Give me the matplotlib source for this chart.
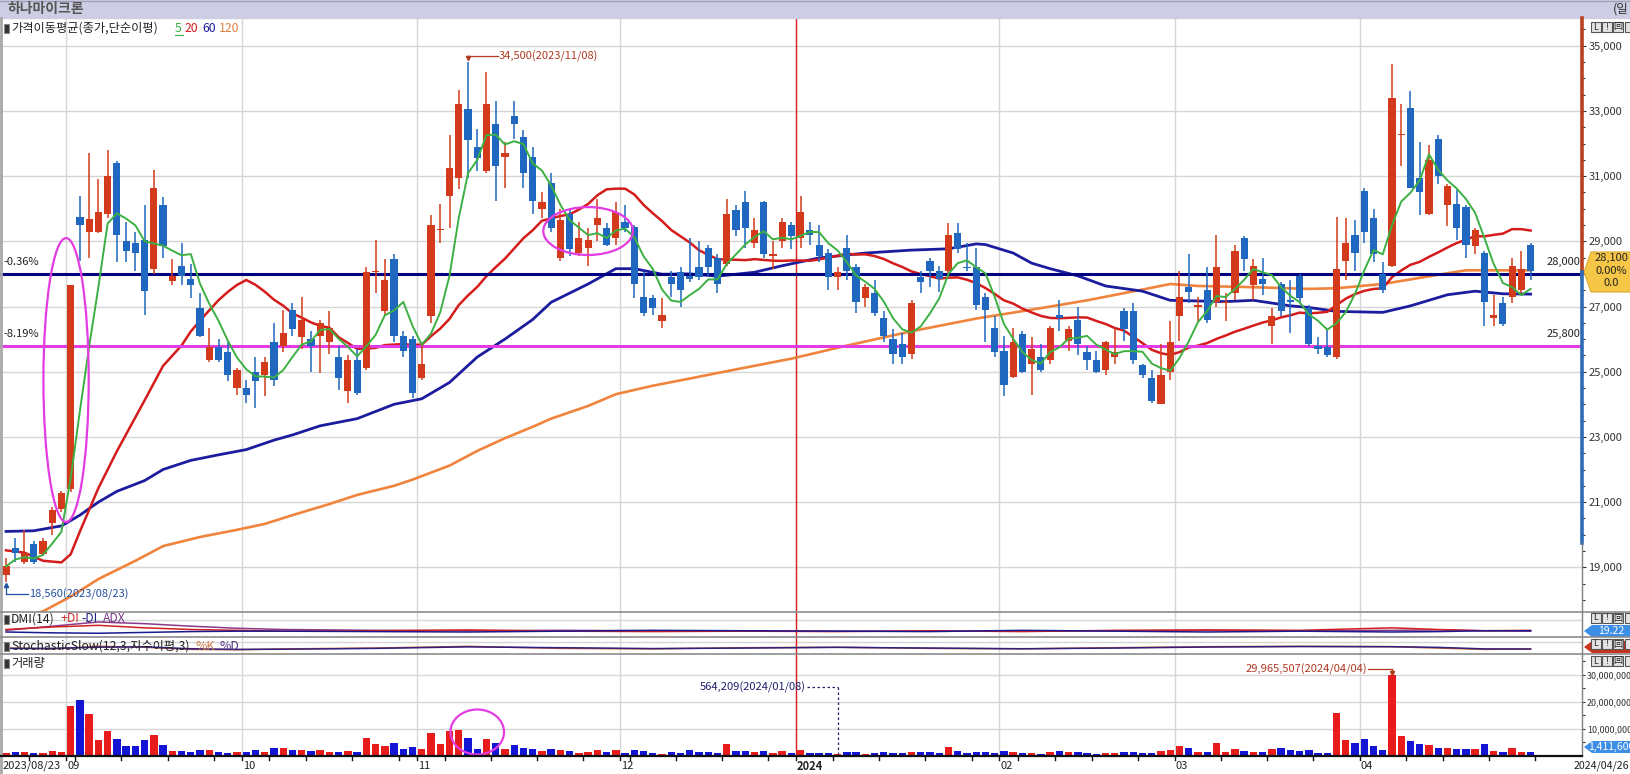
import numpy as np
import pandas as pd
import matplotlib
matplotlib.use('Agg')
import matplotlib.pyplot as plt
from matplotlib.patches import Ellipse, Polygon, Rectangle

plt.rcParams['font.family'] = ['Noto Sans CJK KR', 'DejaVu Sans']

# ---------------- data ----------------
open_ = [18750,19600,19150,19710,19400,20350,20800,21400,29750,29300,
         29300,29850,31400,29000,28950,29050,28150,30100,27770,28250,
         27850,26950,25350,25770,25600,24500,24500,25000,24900,25900,
         25800,26900,26050,26000,26100,25900,25450,24400,25350,25100,
         28050,26850,28450,26100,26000,24800,26700,29350,30400,30950,
         33050,31900,31150,32600,31600,32850,32200,31600,30000,30800,
         28500,29850,28650,28800,29500,29400,29100,29600,29450,27300,
         27250,26550,27900,28050,27950,28200,28800,28500,28300,29950,
         30200,28950,30200,28550,29000,29500,29100,29350,28900,28650,
         27900,28800,28200,27250,27400,26650,26000,25850,25550,27900,
         28400,28100,28100,29250,28220,28200,27300,26350,25650,24850,
         26150,25250,25450,25350,26750,25950,26600,25600,25350,25050,
         25450,26850,26850,25200,24800,24000,25000,26700,27600,27000,
         27500,27150,27100,27400,29100,27650,27850,26400,27700,27200,
         27950,26950,25800,25750,25450,28400,29200,30550,29700,28000,
         28250,32250,33100,30950,29850,32150,30100,30150,30050,28850,
         28650,26650,27100,27300,27500,28900]
high = [19300,19900,20150,19800,19900,20850,21350,27650,30400,31700,
        30900,31800,31450,29600,29300,30100,31200,30350,28450,28950,
        28300,27400,26350,26000,25900,25100,24750,25450,25450,26500,
        26900,27100,27300,26250,26600,26850,25800,25500,25700,28200,
        29050,28450,28600,26250,26100,25900,29800,30150,32250,33650,
        34500,32450,34200,33300,32050,33300,32400,31900,30500,31100,
        30000,29950,29600,29400,30300,29550,30200,30100,29500,28050,
        27350,27250,28100,28200,29100,29000,28900,28600,30300,30100,
        30550,29700,30250,29000,29700,29600,30400,29600,29500,28750,
        28200,29200,28300,27700,27800,26850,26300,26200,27200,28100,
        28500,28250,29550,29550,28950,28800,27400,26700,26100,26350,
        26250,26050,25850,26400,27200,26400,27000,25800,25650,25950,
        26350,26950,27100,25250,25050,25850,26550,28100,28600,27300,
        28200,29200,27400,28900,29150,28450,28500,26950,27750,27800,
        28000,27050,26050,26300,29750,29700,29650,30650,30000,28350,
        34450,33200,33600,32050,31950,32250,30750,30600,30100,29400,
        28700,27350,27300,28500,28700,28950]
low = [18560,19150,19100,19100,19350,20000,20700,21300,28400,28500,
       29250,29700,28350,28350,28100,26750,28000,28500,27650,27650,
       27250,26050,25300,25300,24700,24300,24050,23900,24250,24550,
       25600,26100,25700,25000,24950,25550,24450,24050,24300,25050,
       27400,26750,25900,25450,24200,24750,26500,28950,29400,30600,
       30950,31150,31100,30250,30650,32150,30650,29850,29700,29300,
       28400,28550,28550,28250,29000,28850,28900,29300,27250,26700,
       26750,26350,27300,27000,27750,27800,27950,27400,28250,29150,
       28800,28800,28500,28150,28800,28750,28800,28900,28350,27500,
       27500,27800,26800,27000,26700,25900,25250,25250,25400,27400,
       27600,27450,28000,28650,28100,26900,25900,25450,24250,24800,
       24950,24300,25000,25250,26250,25650,25500,25050,24950,24900,
       25250,25950,25250,24800,24050,24000,24750,25950,27100,26550,
       26500,27000,26550,27200,28100,27200,27350,25850,26700,26200,
       27100,25800,25550,25450,25400,27800,28100,28950,28350,27400,
       28200,31300,30650,29800,29800,30750,29480,29050,28500,28600,
       26400,26400,26400,27100,27400,27800]
close = [19030,19450,19450,19150,19820,20770,21270,27650,29500,29680,
         29900,31000,29200,28700,28650,27470,30650,28850,27940,27950,
         27650,26100,25770,25350,24900,25050,24300,24700,25300,24750,
         26200,26300,26600,25800,26500,26350,24800,25350,24350,28050,
         28100,27800,26100,25650,24350,25250,29500,29380,31250,33200,
         32100,31550,33200,31300,31700,32600,31100,30250,30200,29400,
         29650,28750,29100,29050,29700,28900,29900,29400,27700,26800,
         26950,26750,27700,27500,27850,27900,28200,27700,29850,29350,
         29400,29350,28600,28600,29600,29150,29900,29200,28550,27900,
         28050,28100,27150,27600,26800,26100,25550,25450,27100,27750,
         28100,27850,29200,28750,28180,27050,26900,25600,24600,25900,
         25000,25700,25050,26350,26650,26300,25850,25350,25000,25900,
         25600,26300,25350,24900,24100,24900,25900,27300,27450,27050,
         26600,28200,27150,28700,28450,28250,27700,26700,26850,27150,
         27250,25850,25700,25500,28150,28950,28650,29300,28600,27500,
         33400,32300,30650,30500,31500,31000,30700,29400,28900,29350,
         27150,26750,26450,28250,28150,28100]
volume_m = [1.2,1.5,1.5,1.1,1.1,1.8,1.5,18.5,20.7,15.5,
            5.9,9.2,6.3,3.7,3.7,5.9,7.7,4.1,1.8,1.8,
            1.5,2.2,2.2,1.5,1.1,1.5,1.5,2.2,1.5,3.0,
            3.0,2.2,2.2,1.8,2.2,1.5,1.5,1.8,1.5,6.8,
            4.4,3.7,4.8,2.6,3.3,2.6,8.6,4.4,9.2,9.6,
            6.6,2.6,6.3,4.8,2.6,4.1,3.0,2.6,1.8,2.6,
            2.2,1.8,1.1,1.5,2.2,1.5,2.2,1.1,2.2,1.8,
            1.1,0.7,1.5,1.1,2.2,1.5,1.5,1.1,4.4,1.8,
            1.8,1.5,1.8,1.1,1.8,1.1,2.2,1.1,1.1,1.1,
            0.564209,1.5,1.5,0.7,1.1,1.5,1.1,1.1,1.5,1.5,
            1.5,1.1,3.3,1.8,1.1,1.5,1.5,1.1,1.8,1.5,
            1.1,1.1,0.7,1.5,1.8,1.5,1.5,1.1,0.7,1.1,
            1.1,1.5,1.5,1.1,1.1,1.8,2.2,3.7,3.0,1.5,
            1.5,4.8,1.5,2.6,1.8,1.5,1.5,2.6,3.0,2.2,
            1.8,2.2,1.1,1.1,16.0,5.9,4.8,6.3,3.7,2.2,
            29.965507,7.4,5.5,4.4,4.1,3.0,3.0,2.6,2.6,2.6,
            4.4,1.8,1.5,3.0,1.5,1.4116]

ma20_early_idx = [0, 2, 4, 6, 7, 8, 10, 12, 15, 17]
ma20_early_val = [19520, 19450, 19200, 19150, 19400, 20100, 21430, 22560, 24120, 25180]

ma60_idx = [0,3,6,8,10,12,15,17,20,23,26,29,31,34,38,42,45,48,51,54,57,59,63,66,68,71,74,77,81,84,
            88,93,98,102,105,106,109,111,113,116,119,123,126,129,132,135,139,141,144,149,152,156,159,162,165]
ma60_val = [20100,20120,20270,20600,21000,21330,21660,22000,22280,22450,22610,22900,23060,23340,23560,
            24000,24170,24670,25450,26000,26600,27130,27690,28160,28160,27990,28000,27930,28050,28250,
            28490,28640,28730,28770,28920,28900,28640,28330,28160,27940,27630,27470,27190,27170,27150,
            27190,27020,26970,26850,26820,27020,27360,27470,27390,27380]

ma120_idx = [0,4,7,10,14,17,21,25,28,31,35,38,42,44,48,51,54,57,59,63,66,70,74,77,81,85,91,98,105,112,
             117,123,126,129,134,141,144,149,156,158,165]
ma120_val = [17300,17650,18100,18640,19200,19650,19930,20150,20330,20600,20940,21220,21500,21690,22120,
             22570,22960,23310,23560,23950,24310,24570,24790,24960,25180,25400,25800,26240,26630,26950,
             27190,27520,27690,27630,27600,27540,27560,27690,28020,28110,28110]

dmi_idx = [0,5,10,15,20,25,30,40,50,60,70,80,90,100,110,120,130,140,150,155,160,165]
plus_di = [18,24,28,22,18,16,14,15,17,14,13,14,13,15,13,16,17,16,22,18,15,16]
minus_di = [12,10,9,11,13,14,14,13,12,14,16,15,14,13,16,14,12,14,12,13,15,15]
adx = [16,26,36,32,26,21,18,16,15,16,15,14,14,14,14,15,16,15,16,17,15,14]
stoch_k = [35,30,45,40,27,25,30,35,45,33,30,37,40,33,30,37,43,45,43,35,27,30]
stoch_d = [33,33,40,42,31,27,28,33,42,37,32,35,39,35,31,35,41,44,43,39,30,29]

price_ticks = list(range(19000, 35001, 2000))
vol_ticks = [10, 20, 30]
month_labels = ['09', '10', '11', '12', '2024', '02', '03', '04']
hlines = [(28000, '-0.36%', '28,000', '#000080'), (25800, '-8.19%', '25,800', '#e23ce2')]

holidays = pd.to_datetime(['2023-09-28', '2023-09-29', '2023-10-02', '2023-10-03', '2023-10-09',
                           '2023-12-25', '2023-12-29', '2024-01-01', '2024-02-09', '2024-02-12',
                           '2024-03-01', '2024-04-10'])
dates = pd.bdate_range('2023-08-23', '2024-04-26')
dates = dates[~dates.isin(holidays)]

# ---------------- layout ----------------
W, H = 1631, 774
fig = plt.figure(figsize=(W / 100, H / 100), dpi=100)
fig.patch.set_facecolor('white')

X0_PX, DX_PX = 6.0, 9.24
AX_R = 1582

def px2i(px):
    return (px - X0_PX) / DX_PX

def i2px(i):
    return X0_PX + DX_PX * i

def py2p(py):
    return 35000 - (py - 45.7) / 32.6 * 1000

def py2v(py):
    return (756 - py) / 27.1 * 10

def ax_at(x0, y0, x1, y1, z=1):
    a = fig.add_axes([x0 / W, 1 - y1 / H, (x1 - x0) / W, (y1 - y0) / H], zorder=z)
    for s in a.spines.values():
        s.set_visible(False)
    a.set_xlim(px2i(x0), px2i(x1))
    a.tick_params(left=False, bottom=False, labelleft=False, labelbottom=False, right=False, top=False)
    a.patch.set_alpha(0)
    return a

n = len(close)
x = np.arange(n)
o = np.array(open_, float); h = np.array(high, float); l = np.array(low, float); c = np.array(close, float)
up = c >= o
RED, BLUE = '#d23a1b', '#1f67bf'
VRED, VBLUE = '#e81c1c', '#1414d4'
GRID = '#d6d6d6'
cols = np.where(up, RED, BLUE)
vcols = np.where(up, VRED, VBLUE)

month_idx = [k for k in range(1, n) if dates[k].month != dates[k - 1].month]
week_idx = [k for k in range(1, n) if dates[k].isocalendar()[1] != dates[k - 1].isocalendar()[1]]
year_idx = [k for k in range(1, n) if dates[k].year != dates[k - 1].year]

# main price panel
axm = ax_at(0, 18, AX_R, 612, z=2)
axm.set_ylim(py2p(612), py2p(18))
for p in price_ticks:
    axm.axhline(p, color=GRID, lw=1, zorder=0)
for m in month_idx:
    axm.axvline(m - 0.5, color=GRID, lw=1, zorder=0)
for yk in year_idx:
    axm.axvline(yk - 0.5, color='#e02020', lw=1, zorder=0.5)

axm.vlines(x, l, h, colors=cols, lw=1.1, zorder=3)
body_b = np.minimum(o, c)
body_h = np.maximum(np.abs(c - o), 40)
axm.bar(x, body_h, bottom=body_b, width=0.78, color=cols, linewidth=0, zorder=3)

ma5 = pd.Series(c).rolling(5, min_periods=1).mean().values
ma20 = pd.Series(c).rolling(20).mean().values
axm.plot(ma120_idx, ma120_val, color='#f0843c', lw=1.9, zorder=2)
axm.plot(ma60_idx, ma60_val, color='#1c1c9e', lw=2.0, zorder=2)
axm.plot(ma20_early_idx + list(range(19, n)), ma20_early_val + list(ma20[19:]), color='#d41c1c', lw=1.8, zorder=2)
axm.plot(x, ma5, color='#3cb043', lw=1.4, zorder=4)

for val, ltxt, rtxt, colr in hlines:
    axm.axhline(val, color=colr, lw=2.2, zorder=2.5)

# ellipses
axm.add_patch(Ellipse((6.5, 24745), 4.9, 8710, fill=False, edgecolor='#e23ce2', lw=1.6, zorder=5))
axm.add_patch(Ellipse((63.0, 29315), 9.7, 1470, fill=False, edgecolor='#e23ce2', lw=1.6, zorder=5))

axm.yaxis.set_ticks_position('right')
axm.set_yticks(price_ticks)
axm.set_yticks(list(range(18000, 35501, 500)), minor=True)
axm.set_yticklabels([f'{p:,}' for p in price_ticks])
axm.tick_params(axis='y', which='major', right=True, labelright=True, direction='out', length=3,
                width=0.8, pad=1.5, labelsize=8, colors='#333333')
axm.tick_params(axis='y', which='minor', right=True, direction='out', length=1.8, width=0.8, colors='#333333')

# high / low annotations
hi_i = int(np.argmax(h)); lo_i = int(np.argmin(l))
ya = py2p(56)
axm.plot([hi_i, px2i(498)], [ya, ya], color='#b03a20', lw=0.9, zorder=6)
axm.plot([hi_i, hi_i], [ya, h[hi_i] + 80], color='#b03a20', lw=0.9, zorder=6)
axm.plot([hi_i], [h[hi_i] + 120], marker='v', ms=3, color='#b03a20', zorder=6)
axm.text(px2i(499), ya, f'{int(h[hi_i]):,}({dates[hi_i]:%Y/%m/%d})', color='#b03a20',
         fontsize=8, va='center', ha='left', zorder=6)
yb = py2p(594)
axm.plot([lo_i, lo_i], [l[lo_i] - 60, yb], color='#2050a0', lw=0.9, zorder=6)
axm.plot([lo_i], [l[lo_i] - 100], marker='^', ms=3, color='#2050a0', zorder=6)
axm.plot([lo_i, px2i(28)], [yb, yb], color='#2050a0', lw=0.9, zorder=6)
axm.text(px2i(29), yb, f'{int(l[lo_i]):,}({dates[lo_i]:%Y/%m/%d})', color='#2050a0',
         fontsize=8, va='center', ha='left', zorder=6)

for val, ltxt, rtxt, colr in hlines:
    axm.text(px2i(3), val + 200, ltxt, fontsize=8, color='#222222', va='bottom', ha='left', zorder=6)
    axm.text(px2i(1580), val + 200, rtxt, fontsize=8, color='#222222', va='bottom', ha='right', zorder=6)

# DMI panel
axd = ax_at(0, 612, AX_R, 637)
axd.set_ylim(0, 60)
axd.axhline(40, color=GRID, lw=1, zorder=0)
for m in month_idx:
    axd.axvline(m - 0.5, color=GRID, lw=1, zorder=0)
for yk in year_idx:
    axd.axvline(yk - 0.5, color='#e02020', lw=1, zorder=0.5)
axd.plot(dmi_idx, adx, color='#8a3a8a', lw=1.1)
axd.plot(dmi_idx, plus_di, color='#d02020', lw=1.1)
axd.plot(dmi_idx, minus_di, color='#1a1a90', lw=1.1)

# Stochastic panel
axs = ax_at(0, 637, AX_R, 654)
axs.set_ylim(0, 100)
axs.axhline(70, color=GRID, lw=1, zorder=0)
for m in month_idx:
    axs.axvline(m - 0.5, color=GRID, lw=1, zorder=0)
for yk in year_idx:
    axs.axvline(yk - 0.5, color='#e02020', lw=1, zorder=0.5)
axs.plot(dmi_idx, stoch_k, color='#c85a30', lw=1.1)
axs.plot(dmi_idx, stoch_d, color='#302080', lw=1.1)

# Volume panel
axv = ax_at(0, 654, AX_R, 756)
axv.set_ylim(0, py2v(654))
for v in vol_ticks:
    axv.axhline(v, color=GRID, lw=1, zorder=0)
for m in month_idx:
    axv.axvline(m - 0.5, color=GRID, lw=1, zorder=0)
for yk in year_idx:
    axv.axvline(yk - 0.5, color='#e02020', lw=1, zorder=0.5)
axv.bar(x, volume_m, width=0.8, color=vcols, linewidth=0, zorder=3)
axv.add_patch(Ellipse((51.0, 8.86), 5.8, 16.6, fill=False, edgecolor='#e23ce2', lw=1.6, zorder=5))
axv.yaxis.set_ticks_position('right')
axv.set_yticks(vol_ticks)
axv.set_yticks([5, 15, 25, 35], minor=True)
axv.set_yticklabels([f'{v * 1000000:,}' for v in vol_ticks])
axv.tick_params(axis='y', which='major', right=True, labelright=True, direction='out', length=2.5,
                width=0.8, pad=1, labelsize=6.4, colors='#333333')
axv.tick_params(axis='y', which='minor', right=True, direction='out', length=1.8, width=0.8, colors='#333333')

vmax_i = int(np.argmax(volume_m)); vmin_i = int(np.argmin(volume_m))
yv = py2v(669)
axv.plot([px2i(1368), vmax_i], [yv, yv], color='#b03a20', lw=0.9, zorder=6)
axv.plot([vmax_i, vmax_i], [yv, volume_m[vmax_i] + 0.3], color='#b03a20', lw=0.9, zorder=6)
axv.plot([vmax_i], [volume_m[vmax_i] + 0.5], marker='v', ms=3, color='#b03a20', zorder=6)
axv.text(px2i(1367), yv, f'{int(round(volume_m[vmax_i] * 1e6)):,}({dates[vmax_i]:%Y/%m/%d})',
         color='#b03a20', fontsize=8, va='center', ha='right', zorder=6)
yv2 = py2v(687)
axv.plot([px2i(807), vmin_i], [yv2, yv2], color='#202070', lw=0.9, ls=(0, (2, 2)), zorder=6)
axv.plot([vmin_i, vmin_i], [yv2, volume_m[vmin_i]], color='#202070', lw=0.9, ls=(0, (2, 2)), zorder=6)
axv.text(px2i(806), yv2, f'{int(round(volume_m[vmin_i] * 1e6)):,}({dates[vmin_i]:%Y/%m/%d})',
         color='#202070', fontsize=8, va='center', ha='right', zorder=6)

# ---------------- overlay (pixel coordinates) ----------------
ov = fig.add_axes([0, 0, 1, 1], zorder=10)
ov.set_xlim(0, W); ov.set_ylim(H, 0); ov.axis('off'); ov.patch.set_alpha(0)

ov.add_patch(Rectangle((0, 0), W, 18, color='#cdcde3', zorder=1))
ov.plot([0, W], [0.5, 0.5], color='#a0a0b8', lw=1)
ov.text(8, 9.5, '하나마이크론', fontsize=10, fontweight='bold', color='#555555', va='center', ha='left')
ov.text(1613, 9.5, '(일', fontsize=9, color='#333333', va='center', ha='left')
ov.plot([1.2, 1.2], [18, 774], color='#a8a8a8', lw=2)

def label_row(y, parts):
    for xx, s, colr in parts:
        ov.text(xx, y, s, fontsize=8.8, color=colr, va='center', ha='left')

def bullet(y):
    ov.add_patch(Rectangle((4, y - 4.5), 5, 9, facecolor='#333333', edgecolor='#888888', lw=0.8))

bullet(28)
label_row(28, [(11, '가격이동평균(종가,단순이평)', '#222222'), (175, '5', '#3cb043'),
               (185, '20', '#d41c1c'), (202, '60', '#1c1c9e'), (219, '120', '#e08040')])
ov.plot([175, 183], [35, 35], color='#3cb043', lw=0.8)
bullet(619)
label_row(619, [(11, 'DMI(14)', '#222222'), (60, '+DI', '#d03030'), (81, '-DI', '#202080'),
                (103, 'ADX', '#7a3a8a')])
bullet(646)
label_row(646, [(11, 'StochasticSlow(12,3,지수이평,3)', '#222222'), (196, '%K', '#d08050'),
                (220, '%D', '#503080')])
bullet(663)
label_row(663, [(11, '거래량', '#222222')])

# panel separators
for yy in (612, 637, 654):
    ov.plot([0, W], [yy, yy], color='#8c8c8c', lw=1.2)
# right axis bar
ov.plot([AX_R, AX_R], [18, 272], color='#b8401e', lw=2.6)
ov.plot([AX_R, AX_R], [272, 543], color='#2d6cb5', lw=2.6)
ov.plot([AX_R, AX_R], [543, 756], color='#808080', lw=1)
# baseline and date ticks
ov.plot([0, AX_R], [756, 756], color='#111111', lw=1.6)
for k in sorted(set(week_idx + month_idx)):
    px = i2px(k - 0.5)
    ov.plot([px, px], [756, 760], color='#111111', lw=1)
ov.plot([i2px(n - 0.5), i2px(n - 0.5)], [756, 760], color='#111111', lw=1)

ov.text(3, 766, f'{dates[0]:%Y/%m/%d}', fontsize=8, color='#222222', va='center', ha='left')
for m, lab in zip(month_idx, month_labels):
    ov.text(i2px(m - 0.5) + 1, 766, lab, fontsize=8, color='#222222', va='center', ha='left',
            fontweight='bold' if lab == '2024' else 'normal')
ov.text(1629, 766, f'{dates[-1]:%Y/%m/%d}', fontsize=7.6, color='#222222', va='center', ha='right')

# price tag
last_c = close[-1]
ov.add_patch(Polygon([(1584, 272), (1591, 252), (1631, 252), (1631, 292), (1591, 292)],
                     closed=True, facecolor='#f6c646', edgecolor='#e0a830', lw=0.8))
ov.text(1611, 258, f'{last_c:,}', fontsize=8, color='#222222', va='center', ha='center')
ov.text(1611, 270.5, '0.00%', fontsize=8, color='#222222', va='center', ha='center')
ov.text(1611, 283, '0.0', fontsize=8, color='#222222', va='center', ha='center')

def tag(y0, y1, colr, txt):
    ym = (y0 + y1) / 2
    ov.add_patch(Polygon([(1584, ym), (1592, y0), (1631, y0), (1631, y1), (1592, y1)],
                         closed=True, facecolor=colr, edgecolor='none'))
    if txt:
        ov.text(1611, ym, txt, fontsize=7.5, color='white', va='center', ha='center')

tag(625, 637, '#3c8ee6', '19.22')
tag(641, 653, '#c8321e', '')
tag(741, 753, '#3c8ee6', f'{volume_m[-1] * 1e6:,.0f}')

def icons(y):
    for xx, g in ((1591, 'L'), (1602, '!'), (1613, '回'), (1625, '')):
        ov.add_patch(Rectangle((xx, y), 10, 10, facecolor='#e4e4e4', edgecolor='#555555', lw=0.8))
        if g:
            ov.text(xx + 5, y + 5, g, fontsize=6.5, color='#222222', va='center', ha='center')

icons(22)
icons(613)
icons(639)
icons(656)

fig.savefig('out.png', dpi=100, facecolor='white')
